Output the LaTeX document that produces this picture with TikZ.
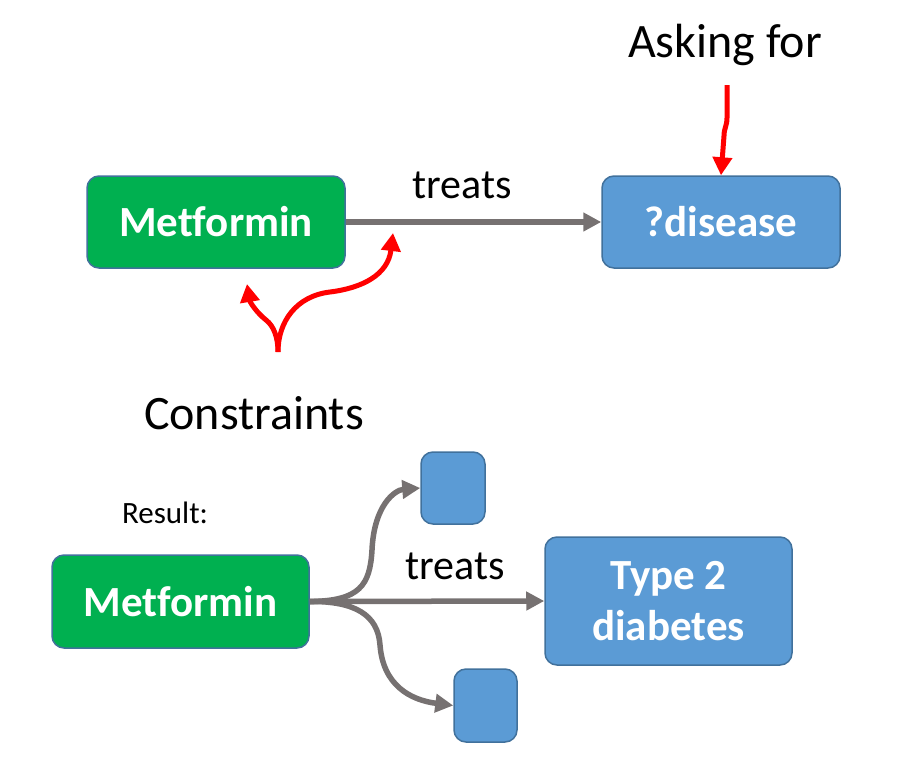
\documentclass[tikz,border=0pt]{standalone}
\usepackage{fontspec}
\setmainfont[Ligatures={NoCommon}]{Carlito}
\usetikzlibrary{arrows.meta}
\definecolor{boxgreen}{HTML}{00B050}
\definecolor{boxblue}{HTML}{5B9BD5}
\definecolor{boxedge}{HTML}{41719C}
\definecolor{linkgray}{HTML}{767171}
\definecolor{markred}{HTML}{FF0000}
\begin{document}
\begin{tikzpicture}[x=1pt,y=-1pt,
  box/.style={draw=boxedge, line width=1.5pt, rounded corners=12pt, inner sep=0pt,
    text=white, font=\fontsize{43}{51}\selectfont\bfseries, align=center},
  greenbox/.style={box, fill=boxgreen},
  bluebox/.style={box, fill=boxblue},
  link/.style={draw=linkgray, line width=5.5pt, -{Triangle[length=18pt,width=18pt]}},
  redarrow/.style={draw=markred, line width=5pt, -{Triangle[length=18pt,width=19pt]}},
  lbl/.style={font=\fontsize{42}{50}\selectfont, anchor=base, inner sep=0pt},
  biglbl/.style={font=\fontsize{48}{56}\selectfont, anchor=base, inner sep=0pt},
  smalllbl/.style={font=\fontsize{31}{37}\selectfont, anchor=base, inner sep=0pt}
]
\useasboundingbox (0,0) rectangle (919,772);

% top row
\node[greenbox, minimum width=258pt, minimum height=92pt] (met1) at (216,222) {Metformin};
\node[bluebox, minimum width=238pt, minimum height=92pt] (dis) at (721,222) {?disease};
\draw[link] (met1.east) -- (dis.west);
\node[lbl] (treats1) at (462,198) {treats};

\node[biglbl] (ask) at (725,57) {Asking for};
\coordinate (askstart) at (727,85);
\draw[redarrow] (askstart) -- (727,118) .. controls (727,126) and (724,128) .. (724,136) -- (dis.north);

\coordinate (constart) at (278,352);
\coordinate (leftip) at (247,284);
\coordinate (rightip) at (393,233);
\draw[redarrow] (constart) .. controls (278,338) and (274,326) .. (266,320)
  .. controls (256,312) and (250,302) .. (leftip);
\draw[redarrow] (constart) .. controls (278,322) and (296,296) .. (330,292)
  .. controls (362,288) and (388,275) .. (rightip);
\node[biglbl] (cons) at (254,429) {Constraints};

% bottom row
\node[smalllbl] (res) at (165,523) {Result:};
\node[greenbox, minimum width=257pt, minimum height=93pt] (met2) at (180.5,601.5) {Metformin};
\node[bluebox, minimum width=247pt, minimum height=128pt] (t2d) at (668.5,601) {Type 2\\diabetes};
\node[bluebox, minimum width=64pt, minimum height=72pt] (sq1) at (453,488) {};
\node[bluebox, minimum width=63pt, minimum height=73pt] (sq2) at (485.5,705.5) {};
\draw[link] (met2.east) -- (t2d.west);
\node[lbl] (treats2) at (455,579) {treats};
\draw[link] (met2.east) .. controls (360,601) and (370,585) .. (372,550)
  .. controls (374,505) and (395,490) .. (sq1.west);
\draw[link] (met2.east) .. controls (355,601) and (378,615) .. (380,645)
  .. controls (383,685) and (410,700) .. (sq2.west);
\end{tikzpicture}
\end{document}
